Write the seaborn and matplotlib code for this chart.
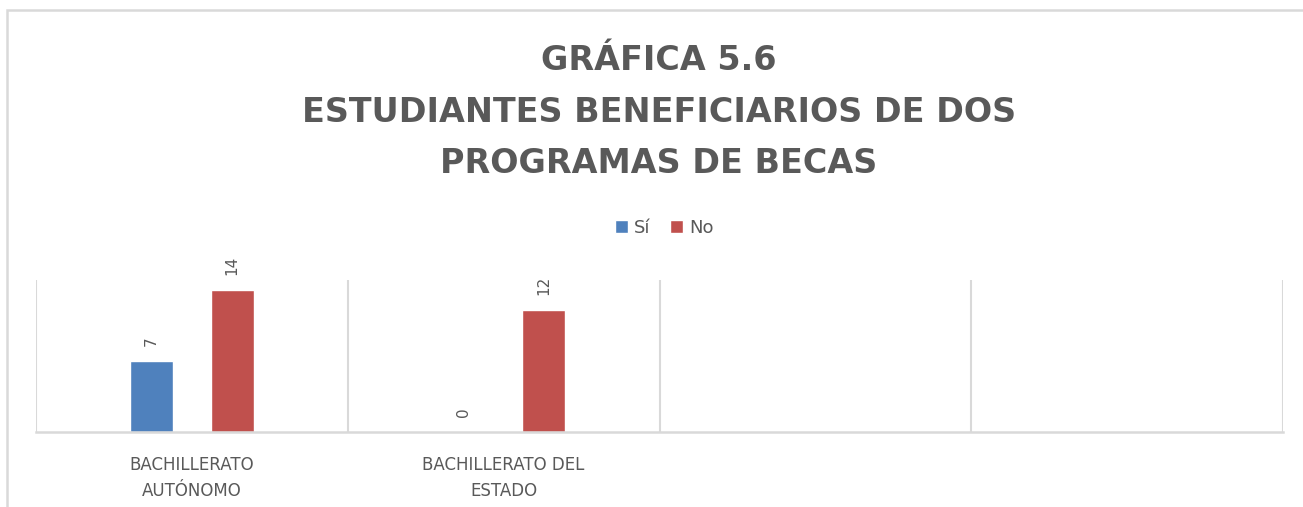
import matplotlib
matplotlib.use("Agg")
import matplotlib.pyplot as plt
from matplotlib.patches import Rectangle
import numpy as np
import pandas as pd
import seaborn as sns

# ---- data ----
categories = ["Bachillerato Autónomo", "Bachillerato del Estado"]
slots = categories + ["_vacío1", "_vacío2"]
tick_labels = ["BACHILLERATO\nAUTÓNOMO", "BACHILLERATO DEL\nESTADO", "", ""]
series_names = ["Sí", "No"]
si_values = [7, 0]
no_values = [14, 12]
title_text = "GRÁFICA 5.6\nESTUDIANTES BENEFICIARIOS DE DOS\nPROGRAMAS DE BECAS"

colors = {"Sí": "#4F81BD", "No": "#C0504D"}
gray_text = "#595959"
line_gray = "#D9D9D9"

df = pd.DataFrame({
    "categoria": categories * 2,
    "serie": [series_names[0]] * len(categories) + [series_names[1]] * len(categories),
    "valor": si_values + no_values,
})

sns.set_theme(style="white")
plt.rcParams["font.family"] = ["DejaVu Sans"]

fig = plt.figure(figsize=(13.03, 5.07), dpi=100)
W, H = 1303, 507
ax = fig.add_axes([36 / W, 1 - 432 / H, (1283 - 36) / W, (432 - 280) / H])

sns.barplot(data=df, x="categoria", y="valor", hue="serie", order=slots,
            hue_order=series_names, palette=colors, width=0.516, gap=0.465,
            saturation=1, ax=ax, legend=True, errorbar=None)

for cont in ax.containers:
    ax.bar_label(cont, padding=11, rotation=90, color=gray_text, fontsize=11)

ax.set_ylim(0, 15)
ax.set_xlim(-0.5, len(slots) - 0.5)
ax.set_yticks([])
ax.set_xlabel("")
ax.set_ylabel("")
ax.set_xticks(range(len(slots)))
ax.set_xticklabels(tick_labels, color=gray_text, fontsize=12, linespacing=1.6)
ax.tick_params(axis="x", length=0, pad=17)
ax.set_xticks(np.arange(-0.5, len(slots), 1), minor=True)
ax.tick_params(axis="x", which="minor", length=0)
ax.grid(False)
ax.grid(which="minor", axis="x", color=line_gray, linewidth=1.5)
for s in ["top", "left", "right"]:
    ax.spines[s].set_visible(False)
ax.spines["bottom"].set_color(line_gray)
ax.spines["bottom"].set_linewidth(1.8)

# legend
leg = ax.get_legend()
handles = leg.legend_handles
ax.legend_.remove()
fig.legend(handles, series_names, loc="center", bbox_to_anchor=(664 / W, 1 - 228 / H),
           ncol=2, frameon=False, fontsize=13, handlelength=0.75, handleheight=0.75,
           handletextpad=0.3, columnspacing=1.1, labelcolor=gray_text)

fig.text(659 / W, 1 - 112 / H, title_text, ha="center", va="center",
         fontsize=24, fontweight="bold", color=gray_text, linespacing=1.72)

fig.patches.append(Rectangle((6.5 / W, -0.1), 1.2, 1.1 - 10 / H,
                             transform=fig.transFigure, fill=False,
                             edgecolor=line_gray, linewidth=1.8))

fig.savefig("out.png", dpi=100, facecolor="white")
